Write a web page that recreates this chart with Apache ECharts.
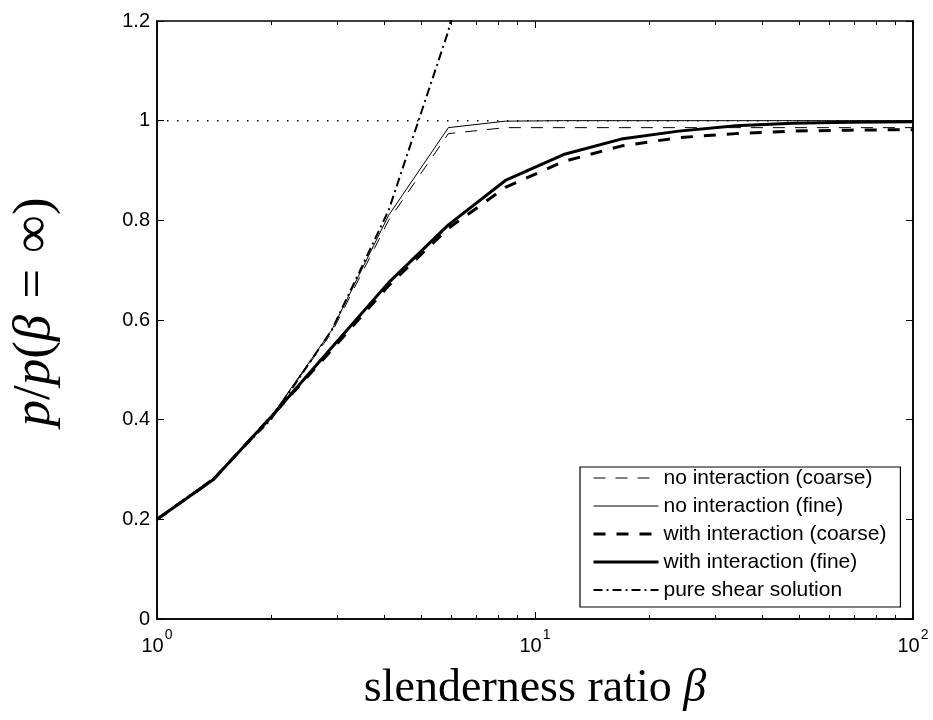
<!DOCTYPE html>
<html>
<head>
<meta charset="utf-8">
<script src="https://cdn.jsdelivr.net/npm/echarts@6/dist/echarts.min.js"></script>
<style>
  html, body { margin: 0; padding: 0; background: #fff; }
  #chart { width: 933px; height: 720px; }
</style>
</head>
<body>
<div id="chart"></div>
<script>
// slenderness ratio values (x) shared by the four mesh curves
const beta = [1, 1.41, 2, 2.9, 4.1, 5.9, 8.35, 11.9, 16.9, 24, 34, 48, 68, 100];
const noIntCoarse = [0.2, 0.28, 0.405, 0.575, 0.80, 0.974, 0.986, 0.986, 0.986, 0.986, 0.986, 0.986, 0.986, 0.986];
const noIntFine = [0.2, 0.28, 0.405, 0.58, 0.81, 0.986, 0.999, 1, 1, 1, 1, 1, 1, 1];
const withIntCoarse = [0.2, 0.28, 0.405, 0.54, 0.669, 0.784, 0.866, 0.918, 0.949, 0.966, 0.974, 0.979, 0.981, 0.982];
const withIntFine = [0.2, 0.28, 0.405, 0.545, 0.675, 0.791, 0.880, 0.932, 0.963, 0.979, 0.990, 0.995, 0.997, 0.998];

// pure shear solution
const shearBeta = [1, 1.41, 2, 2.9, 4.1, 5.9, 8.35];
const shearVals = [0.2, 0.282, 0.4, 0.58, 0.82, 1.18, 1.67];

// dotted reference at p/p(inf) = 1
const refBeta = [1, 100];
const refVals = [1, 1];

// ticks
const xMajor = [1, 10, 100];
const xMinor = [2, 3, 4, 5, 6, 7, 8, 9, 20, 30, 40, 50, 60, 70, 80, 90];
const yTicks = [0, 0.2, 0.4, 0.6, 0.8, 1, 1.2];
const yTickLabels = ['0', '0.2', '0.4', '0.6', '0.8', '1', '1.2'];

const legendNames = [
  'no interaction (coarse)',
  'no interaction (fine)',
  'with interaction (coarse)',
  'with interaction (fine)',
  'pure shear solution',
];
const legendWidths = [1, 1, 3, 3, 2];

const zip = (xs, ys) => xs.map((x, i) => [x, ys[i]]);

const chart = echarts.init(document.getElementById('chart'), null, { renderer: 'canvas' });

const tickFont = 'Liberation Sans, Arial, Helvetica, sans-serif';
const serif = 'Liberation Serif, Times New Roman, serif';

// log x axis helper (bottom/top, major/minor)
const logAxis = (position, ticks, len, withLabels) => ({
  type: 'log',
  logBase: 10,
  position: position,
  min: 1,
  max: 100,
  gridIndex: 0,
  axisLine: { show: withLabels, lineStyle: { color: '#000', width: 1.5 } },
  axisTick: { show: true, inside: true, length: len, customValues: ticks, lineStyle: { color: '#000', width: 1 } },
  axisLabel: withLabels ? {
    show: true,
    margin: 9,
    formatter: (v) => '{b|10}{s|' + Math.round(Math.log10(v)) + '}',
    rich: {
      b: { fontSize: 20, fontFamily: tickFont, color: '#000', lineHeight: 28, verticalAlign: 'bottom' },
      s: { fontSize: 14, fontFamily: tickFont, color: '#000', lineHeight: 28, verticalAlign: 'top', padding: [0, 0, 0, 1] },
    },
  } : { show: false },
  splitLine: { show: false },
  minorTick: { show: false },
  minorSplitLine: { show: false },
});

const valAxis = (position, withLabels) => ({
  type: 'value',
  position: position,
  min: 0,
  max: 1.2,
  interval: 0.2,
  axisLine: { show: true, lineStyle: { color: '#000', width: 1.5 } },
  axisTick: { show: true, inside: true, length: 7, lineStyle: { color: '#000', width: 1 } },
  axisLabel: withLabels ? {
    show: true,
    margin: 7,
    fontSize: 20,
    fontFamily: tickFont,
    color: '#000',
    formatter: (v) => yTickLabels[yTicks.findIndex((t) => Math.abs(t - v) < 1e-6)],
  } : { show: false },
  splitLine: { show: false },
});

const xAxes = [
  logAxis('bottom', xMajor, 7, true),
  logAxis('bottom', xMinor, 4, false),
  logAxis('top', xMajor, 7, false),
  logAxis('top', xMinor, 4, false),
];
xAxes[0].name = '{t|slenderness ratio }{g|β}';
xAxes[0].nameLocation = 'middle';
xAxes[0].nameGap = 47;
xAxes[0].nameTextStyle = {
  rich: {
    t: { fontSize: 46, fontFamily: serif, color: '#000' },
    g: { fontSize: 46, fontFamily: serif, fontStyle: 'italic', color: '#000' },
  },
};

const yAxes = [valAxis('left', true), valAxis('right', false)];
yAxes[0].name = '{i|p}{n|/}{i|p}{n|(}{i|β}{e|=}{n|∞)}';
yAxes[0].nameLocation = 'middle';
yAxes[0].nameRotate = 90;
yAxes[0].nameGap = 95;
yAxes[0].nameTextStyle = {
  padding: [0, 0, 0, 16],
  rich: {
    i: { fontSize: 53, fontFamily: serif, fontStyle: 'italic', color: '#000' },
    n: { fontSize: 53, fontFamily: serif, color: '#000' },
    e: { fontSize: 53, fontFamily: serif, color: '#000', padding: [0, 16, 0, 16] },
  },
};

const lineSeries = (name, data, width, type, z) => ({
  name: name,
  type: 'line',
  data: data,
  xAxisIndex: 0,
  yAxisIndex: 0,
  symbol: 'none',
  showSymbol: false,
  smooth: false,
  clip: true,
  z: z,
  lineStyle: { color: '#000', width: width, type: type, cap: 'butt' },
  itemStyle: { color: '#000' },
  emphasis: { disabled: true },
});

const option = {
  animation: false,
  backgroundColor: '#fff',
  grid: {
    left: 157,
    right: 20,
    top: 21,
    bottom: 101,
    show: true,
    borderColor: '#000',
    borderWidth: 1.5,
    backgroundColor: '#fff',
    containLabel: false,
    outerBoundsMode: 'none',
  },
  legend: {
    data: legendNames.map((n, i) => ({ name: n, lineStyle: { width: legendWidths[i] } })),
    orient: 'vertical',
    left: 580,
    top: 467,
    padding: [0, 14, 6, 12],
    itemGap: 6,
    itemWidth: 65,
    itemHeight: 14,
    backgroundColor: '#fff',
    borderColor: '#000',
    borderWidth: 1.2,
    borderRadius: 0,
    itemStyle: { color: 'rgba(0,0,0,0)', borderColor: 'rgba(0,0,0,0)', borderWidth: 0, opacity: 0 },
    textStyle: { fontSize: 21, fontFamily: tickFont, color: '#000', lineHeight: 22 },
    selectedMode: false,
  },
  xAxis: xAxes,
  yAxis: yAxes,
  series: [
    lineSeries('reference', zip(refBeta, refVals), 1.5, [1.5, 8.5], 1),
    lineSeries(legendNames[0], zip(beta, noIntCoarse), 1, [12, 10], 3),
    lineSeries(legendNames[1], zip(beta, noIntFine), 1, 'solid', 3),
    lineSeries(legendNames[2], zip(beta, withIntCoarse), 3, [12, 11], 4),
    lineSeries(legendNames[3], zip(beta, withIntFine), 3, 'solid', 4),
    lineSeries(legendNames[4], zip(shearBeta, shearVals), 2, [9, 4, 2, 4], 2),
  ],
};

chart.setOption(option);
</script>
</body>
</html>
